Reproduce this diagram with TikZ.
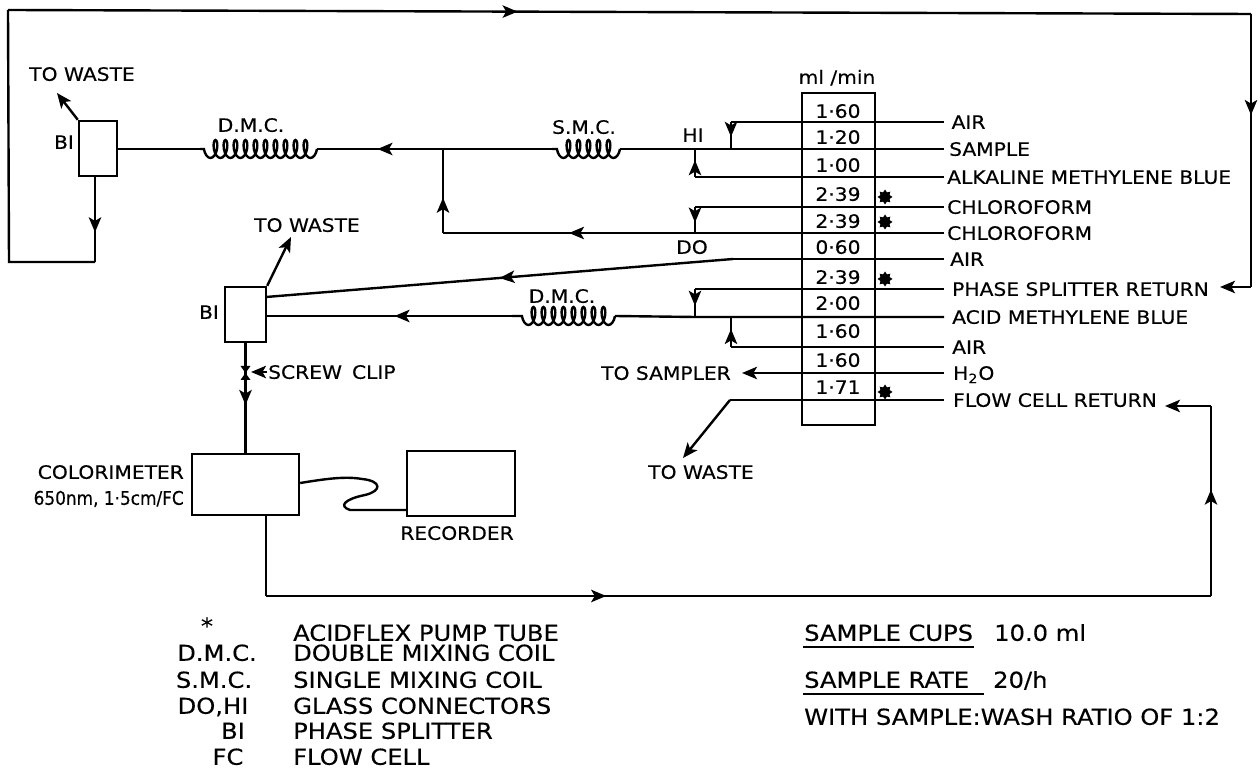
\documentclass[tikz,border=0pt]{standalone}
\usepackage{fontspec}
\setmainfont[FakeStretch=1.1,FakeBold=0.35]{DejaVu Sans}
\newfontfamily\narrowfont[FakeBold=0.35]{DejaVu Sans Condensed}
\usetikzlibrary{arrows.meta,decorations.pathmorphing,decorations.markings,shapes.geometric}
\tikzset{
  pumptip/.tip={Stealth[length=7.5pt,width=6.2pt,inset=1.8pt]},
  lbl/.style={inner sep=0pt,text height=6.8pt,text depth=0pt,font=\fontsize{9.2}{10}\selectfont},
  tube/.style={lbl,anchor=west,inner xsep=#1},
  keylbl/.style={inner sep=0pt,text height=7.8pt,text depth=0pt,font=\fontsize{11}{12}\selectfont},
  unit/.style={draw,line width=1.2pt,inner sep=0pt,minimum width=#1},
  flow/.style={postaction={decorate,decoration={markings,mark=at position #1 with {\arrow{pumptip}}}}},
  flow/.default=0.5,
  coilline/.style={decorate,decoration={coil,aspect=0.45,amplitude=4.5pt,segment length=5pt}},
  pumpstar/.style={star,star points=8,star point ratio=1.5,fill=black,inner sep=0pt,minimum size=7.5pt},
}
\begin{document}
\begin{tikzpicture}[x=0.5pt,y=-0.5pt,line width=1.2pt]
  \useasboundingbox (0,0) rectangle (1260,769);

  % pump manifold
  \node[draw,line width=1.2pt,inner sep=0pt,minimum width=36.5pt,minimum height=166pt] (pump) at (838.5,259) {};
  \node[lbl] (unitlbl) at (837,77) {ml /min};
  \foreach \y/\v [count=\i] in {111/1·60,137/1·20,165/1·00,194/2·39,221/2·39,247/0·60,277/2·39,303/2·00,331/1·60,360/1·60,387/1·71}
    \node[lbl] (rate\i) at (838,\y) {\v};
  \foreach \y [count=\i] in {197,222,279,392}
    \node[pumpstar] (pstar\i) at (885,\y) {};

  % tube labels
  \node[tube=3.2pt] (airA) at (944,122) {AIR};
  \node[tube=2pt] (sample) at (944,149) {SAMPLE};
  \node[tube=1pt] (alkblue) at (944,177) {ALKALINE METHYLENE BLUE};
  \node[tube=1pt] (chlorA) at (944,207) {CHLOROFORM};
  \node[tube=1pt] (chlorB) at (944,233) {CHLOROFORM};
  \node[tube=2.5pt] (airB) at (944,259) {AIR};
  \node[tube=3.5pt] (psreturn) at (944,289) {PHASE SPLITTER RETURN};
  \node[tube=3.5pt] (acidblue) at (944,317) {ACID METHYLENE BLUE};
  \node[tube=3.5pt] (airC) at (944,347) {AIR};
  \node[tube=4pt] (water) at (944,373) {H\textsubscript{2}O};
  \node[tube=4pt] (fcreturn) at (944,400) {FLOW CELL RETURN};

  % first phase splitter
  \node[unit=19pt,minimum height=27.5pt] (biA) at (98,148.5) {};
  \node[lbl] (biAlbl) at (64,142) {BI};
  \node[lbl] (wasteA) at (82,74) {TO WASTE};
  \coordinate (wasteAtip) at (57,93);
  \draw[-pumptip] (biA.north west) -- (wasteAtip);
  \coordinate (biAdown) at (95,262);
  \coordinate (topleft) at (8,10);
  \coordinate (topright) at (1251,14);
  \coordinate (leftcorner) at (9,262);
  \coordinate (psret) at (1251,287);
  \coordinate (psrtip) at (1220,287);
  \draw[flow=0.65] (biA.south -| biAdown) -- (biAdown);
  \draw (biAdown) -- (leftcorner) -- (topleft);
  \draw[flow=0.41] (topleft) -- (topright);
  \draw[flow=0.37] (topright) -- (psret);
  \draw[-pumptip] (psret) -- (psrtip);

  % upper line
  \coordinate (dmcAr) at (317,149);
  \coordinate (dmcAl) at (200,149);
  \coordinate (smcr) at (620,149);
  \coordinate (smcl) at (552,149);
  \coordinate (joinDO) at (443,149);
  \coordinate (hiAa) at (731,149);
  \coordinate (hiAb) at (695,149);
  \coordinate (airAbend) at (731,122);
  \coordinate (alkbend) at (695,177);
  \coordinate (chlorAbend) at (695,207);
  \coordinate (doA) at (695,233);
  \coordinate (doB) at (443,233);
  \draw (sample.west) -- (hiAa) -- (hiAb) -- (smcr);
  \draw (airA.west) -- (airAbend);
  \draw[flow=0.55] (airAbend) -- (hiAa);
  \draw (alkblue.west) -- (alkbend);
  \draw[flow=0.6] (alkbend) -- (hiAb);
  \draw[coilline] (smcr) -- (smcl);
  \draw (smcl) -- (joinDO);
  \draw[flow=0.52] (joinDO) -- (dmcAr);
  \draw[coilline] (dmcAr) -- (dmcAl);
  \draw (dmcAl) -- (biA.east |- dmcAl);
  \draw (chlorA.west) -- (chlorAbend);
  \draw[flow=0.6] (chlorAbend) -- (doA);
  \draw (chlorB.west) -- (doA);
  \draw[flow=0.5] (doA) -- (doB);
  \draw[flow=0.42] (doB) -- (joinDO);
  \node[lbl] (dmcAlbl) at (251,125) {D.M.C.};
  \node[lbl] (smclbl) at (584,127) {S.M.C.};
  \node[lbl] (hiAlbl) at (693,135) {HI};
  \node[lbl] (dolbl) at (692,247) {DO};

  % second phase splitter
  \node[unit=20.5pt,minimum height=27.5pt] (biB) at (245.5,314.5) {};
  \node[lbl] (biBlbl) at (209,312) {BI};
  \node[lbl] (wasteB) at (307,225) {TO WASTE};
  \coordinate (wasteBtip) at (291,237);
  \draw[-pumptip] (biB.north east) -- (wasteBtip);
  \coordinate (airBbend) at (733,259);
  \coordinate (biBin) at (266,297);
  \draw (airB.west) -- (airBbend);
  \draw[flow=0.5] (airBbend) -- (biBin);

  % lower line
  \coordinate (dmcBr) at (615,316);
  \coordinate (dmcBl) at (512,316);
  \coordinate (hiBa) at (731,317);
  \coordinate (hiBb) at (695,317);
  \coordinate (psbend) at (695,289);
  \coordinate (airCbend) at (731,347);
  \draw (acidblue.west) -- (hiBa) -- (hiBb) -- (dmcBr);
  \draw (psreturn.west) -- (psbend);
  \draw[flow=0.6] (psbend) -- (hiBb);
  \draw (airC.west) -- (airCbend);
  \draw[flow=0.6] (airCbend) -- (hiBa);
  \draw[coilline] (dmcBr) -- (dmcBl);
  \draw[flow=0.48] (dmcBl) -- (biB.east |- dmcBl);
  \node[lbl] (dmcBlbl) at (562,296) {D.M.C.};

  % outlets of the manifold
  \node[lbl,anchor=east] (sampler) at (732,373) {TO SAMPLER};
  \coordinate (samplertip) at (742,373);
  \coordinate (wasteCbend) at (730,400);
  \coordinate (wasteCtip) at (683,458);
  \node[lbl] (wasteC) at (701,472) {TO WASTE};
  \draw[-pumptip] (water.west) -- (samplertip);
  \draw (fcreturn.west) -- (wasteCbend);
  \draw[-pumptip] (wasteCbend) -- (wasteCtip);

  % colorimeter and recorder
  \node[unit=53.5pt,minimum height=30.5pt] (colori) at (245.5,484.5) {};
  \node[unit=54pt,minimum height=32.5pt] (recorder) at (461,483.5) {};
  \node[lbl,anchor=east] (colorilbl) at (185,472) {COLORIMETER};
  \node[lbl,anchor=east,font=\narrowfont\fontsize{9.4}{10}\selectfont] (colorilblb) at (185,498) {650nm, 1·5cm/FC};
  \node[lbl] (recordlbl) at (457,533) {RECORDER};
  \coordinate (clipmark) at (245.5,373);
  \coordinate (cliptip) at (251,372);
  \coordinate (arrowclip) at (245.5,405);
  \draw[flow=1] (biB.south) -- (arrowclip);
  \draw (arrowclip) -- (colori.north);
  \node[lbl,anchor=west] (clip) at (267,372) {SCREW\hspace{5pt}CLIP};
  \draw[-pumptip] (clip.west) -- (cliptip);
  \fill (clipmark) ++(-5,-7) -- ++(10,0) -- ++(-10,14) -- ++(10,0) -- cycle;
  \draw (colori.east |- 300,483) .. controls (325,479) and (345,476) .. (362,479)
        .. controls (382,481) and (382,491) .. (365,495)
        .. controls (345,499) and (338,506) .. (350,510) -- (recorder.west |- 407,510);

  % return to the manifold
  \coordinate (colout) at (266,596);
  \coordinate (fcup) at (1211,596);
  \coordinate (fcbend) at (1211,406);
  \coordinate (fctip) at (1165,406);
  \draw (colori.south -| colout) -- (colout);
  \draw[flow=0.36] (colout) -- (fcup);
  \draw[flow=0.56] (fcup) -- (fcbend);
  \draw[-pumptip] (fcbend) -- (fctip);

  % key
  \foreach \y/\a/\x [count=\i] in {626/{*}/207,653/D.M.C./217,680/S.M.C./214,706/{DO,HI}/213,731/BI/233,757/FC/228}
    \node[keylbl] (keya\i) at (\x,\y) {\a};
  \foreach \y/\b [count=\i] in {633/ACIDFLEX PUMP TUBE,653/DOUBLE MIXING COIL,680/SINGLE MIXING COIL,706/GLASS CONNECTORS,731/PHASE SPLITTER,757/FLOW CELL}
    \node[keylbl,anchor=west] (keyb\i) at (292,\y) {\b};
  \node[keylbl,anchor=west] (cupshead) at (803,633) {SAMPLE CUPS};
  \node[keylbl,anchor=west] (cups) at (993,633) {10.0 ml};
  \node[keylbl,anchor=west] (ratehead) at (803,680) {SAMPLE RATE};
  \node[keylbl,anchor=west] (rate) at (992,680) {20/h};
  \node[keylbl,anchor=west] (ratio) at (803,717) {WITH SAMPLE:WASH RATIO OF 1:2};
  \draw ([yshift=-2.5pt]cupshead.south west) -- ([yshift=-2.5pt]cupshead.south east);
  \draw ([yshift=-2.5pt]ratehead.south west) -- ([yshift=-2.5pt,xshift=7pt]ratehead.south east);
\end{tikzpicture}
\end{document}
